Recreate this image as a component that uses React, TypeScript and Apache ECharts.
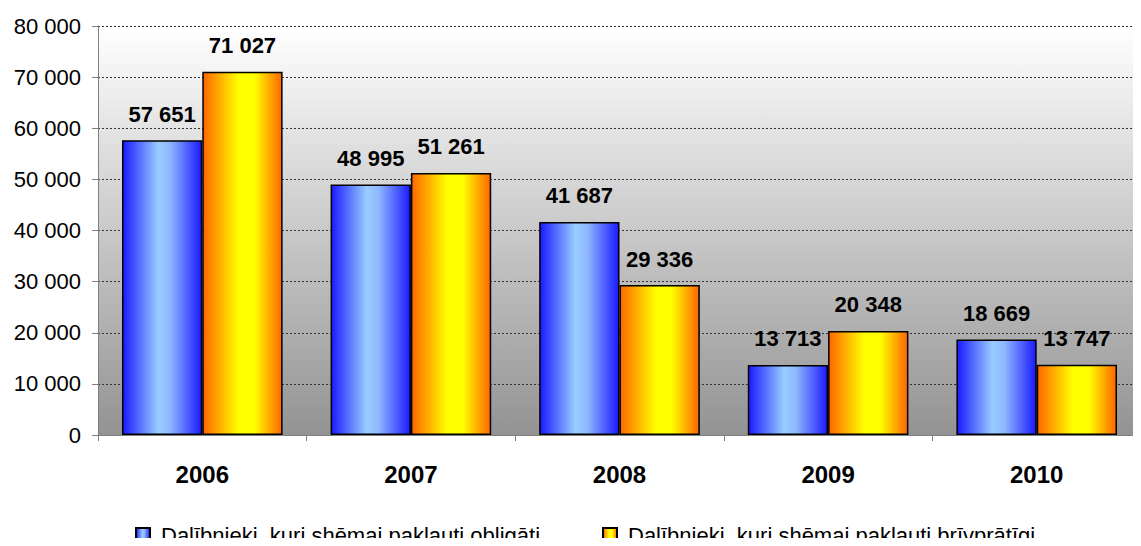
import React, { useEffect, useRef } from "react";
import * as echarts from "echarts";

const years = ["2006", "2007", "2008", "2009", "2010"];
const mandatory = [57651, 48995, 41687, 13713, 18669];
const voluntary = [71027, 51261, 29336, 20348, 13747];
const seriesNames = [
  "Dalībnieki, kuri shēmai pakļauti obligāti",
  "Dalībnieki, kuri shēmai pakļauti brīvprātīgi",
];

const FONT = "Arial, 'Liberation Sans', sans-serif";

const fmt = (v: number) =>
  String(Math.round(v)).replace(/\B(?=(\d{3})+(?!\d))/g, " ");

const blueGrad = new echarts.graphic.LinearGradient(0, 0, 1, 0, [
  { offset: 0, color: "#1a1aff" },
  { offset: 0.45, color: "#99ccff" },
  { offset: 0.6, color: "#8fb8ff" },
  { offset: 1, color: "#1a1aff" },
]);
const orangeGrad = new echarts.graphic.LinearGradient(0, 0, 1, 0, [
  { offset: 0, color: "#ff6600" },
  { offset: 0.45, color: "#ffff00" },
  { offset: 0.65, color: "#ffff00" },
  { offset: 1, color: "#ff6600" },
]);

export default function App() {
  const ref = useRef<HTMLDivElement>(null);
  useEffect(() => {
    if (!ref.current) return;
    const chart = echarts.init(ref.current, undefined, { renderer: "svg" });
    const labelCfg = {
      show: true,
      position: "top",
      distance: 15,
      fontFamily: FONT,
      fontSize: 22,
      fontWeight: "bold",
      color: "#000",
      formatter: (p: any) => fmt(p.value),
    };
    const legendText = {
      fontFamily: FONT,
      fontSize: 22,
      lineHeight: 22,
      color: "#000",
      padding: [0, 0, 0, 6],
    };
    chart.setOption({
      animation: false,
      backgroundColor: "#fff",
      textStyle: { fontFamily: FONT },
      grid: {
        left: 98,
        top: 26,
        right: -9,
        bottom: 111,
        show: true,
        borderWidth: 0,
        backgroundColor: new echarts.graphic.LinearGradient(0, 0, 0, 1, [
          { offset: 0, color: "#ffffff" },
          { offset: 1, color: "#939393" },
        ]),
      },
      legend: [
        {
          data: [seriesNames[0]],
          left: 135,
          top: 524,
          padding: 0,
          itemWidth: 14,
          itemHeight: 14,
          textStyle: legendText,
          icon: "rect",
        },
        {
          data: [seriesNames[1]],
          left: 602,
          top: 524,
          padding: 0,
          itemWidth: 14,
          itemHeight: 14,
          textStyle: legendText,
          icon: "rect",
        },
      ],
      xAxis: {
        type: "category",
        data: years,
        axisLine: { lineStyle: { color: "#808080", width: 1 } },
        axisTick: { show: true, length: 6, lineStyle: { color: "#808080" } },
        axisLabel: {
          fontFamily: FONT,
          fontSize: 24,
          fontWeight: "bold",
          color: "#000",
          margin: 27,
        },
      },
      yAxis: {
        type: "value",
        min: 0,
        max: 80000,
        interval: 10000,
        axisLine: { show: true, lineStyle: { color: "#808080", width: 1 } },
        axisTick: { show: true, length: 6, lineStyle: { color: "#808080" } },
        axisLabel: {
          fontFamily: FONT,
          fontSize: 22,
          color: "#000",
          margin: 17,
          formatter: (v: number) => fmt(v),
        },
        splitLine: {
          show: true,
          lineStyle: { color: "#333", type: [2, 2], width: 1 },
        },
      },
      series: [
        {
          name: seriesNames[0],
          type: "bar",
          data: mandatory,
          barGap: "0%",
          barCategoryGap: "23%",
          itemStyle: { color: blueGrad, borderColor: "#000", borderWidth: 1.5 },
          label: labelCfg,
        },
        {
          name: seriesNames[1],
          type: "bar",
          data: voluntary,
          barGap: "0%",
          barCategoryGap: "23%",
          itemStyle: { color: orangeGrad, borderColor: "#000", borderWidth: 1.5 },
          label: labelCfg,
        },
      ],
    });
    return () => chart.dispose();
  }, []);
  return <div ref={ref} style={{ width: 1141, height: 546, margin: -8 }} />;
}
